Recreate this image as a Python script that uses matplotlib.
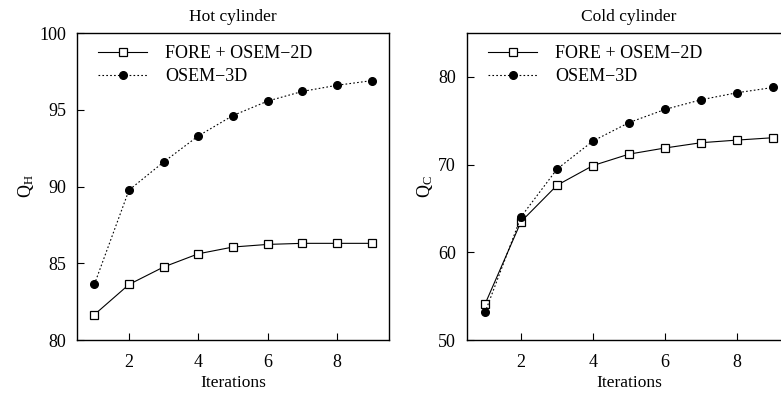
import matplotlib
matplotlib.use('Agg')
import matplotlib.pyplot as plt

# Data
iterations = [1, 2, 3, 4, 5, 6, 7, 8, 9]

hot_fore = [81.65, 83.62, 84.76, 85.62, 86.06, 86.23, 86.3, 86.3, 86.3]
hot_osem3d = [83.62, 89.77, 91.6, 93.3, 94.63, 95.57, 96.2, 96.6, 96.9]

cold_fore = [54.1, 63.5, 67.65, 69.9, 71.2, 71.9, 72.5, 72.8, 73.07]
cold_osem3d = [53.15, 64.05, 69.5, 72.7, 74.8, 76.3, 77.4, 78.2, 78.8]

labels = ['FORE + OSEM\u22122D', 'OSEM\u22123D']

plt.rcParams['font.family'] = ['Liberation Serif']
plt.rcParams['mathtext.fontset'] = 'custom'
plt.rcParams['mathtext.rm'] = 'Liberation Serif'
plt.rcParams['mathtext.it'] = 'Liberation Serif:italic'


def draw_panel(ax, fore, osem, title, ylab, ylim, yticks):
    ax.plot(iterations, fore, color='black', linestyle='-', linewidth=0.8,
            marker='s', markersize=6, markerfacecolor='white',
            markeredgecolor='black', markeredgewidth=0.9, label=labels[0])
    ax.plot(iterations, osem, color='black', linestyle=(0, (1.5, 2)),
            linewidth=0.8, marker='o', markersize=5.5, markerfacecolor='black',
            markeredgecolor='black', label=labels[1])
    ax.set_xlim(0.5, 9.5)
    ax.set_ylim(*ylim)
    ax.set_xticks([2, 4, 6, 8])
    ax.set_yticks(yticks)
    ax.tick_params(direction='in', length=5, width=0.8, labelsize=13,
                   top=False, right=False)
    ax.tick_params(axis='y', pad=8)
    ax.tick_params(axis='x', pad=10)
    for s in ax.spines.values():
        s.set_linewidth(1.0)
    ax.set_title(title, fontsize=12.5, pad=9)
    ax.set_xlabel('Iterations', fontsize=12.5, labelpad=3)
    ax.set_ylabel(ylab, fontsize=13, labelpad=2)
    # legend box pinned a little inside the top-left corner
    dx = 15 / (ax.get_position().width * 781)
    dy = 6 / (ax.get_position().height * 394)
    ax.legend(loc='upper left', bbox_to_anchor=(dx, 1 - dy), frameon=False,
              fontsize=13, handlelength=2.7, handletextpad=1.0,
              borderaxespad=0, labelspacing=0.3, borderpad=0.35)


fig = plt.figure(figsize=(7.81, 3.94), dpi=100)
ax1 = fig.add_axes([0.0986, 0.137, 0.3995, 0.779])
ax2 = fig.add_axes([0.598, 0.137, 0.415, 0.779])

draw_panel(ax1, hot_fore, hot_osem3d, 'Hot cylinder', r'$\mathrm{Q_H}$',
           (80, 100), [80, 85, 90, 95, 100])
draw_panel(ax2, cold_fore, cold_osem3d, 'Cold cylinder', r'$\mathrm{Q_C}$',
           (50, 85), [50, 60, 70, 80])

fig.savefig('out.png', dpi=100)
